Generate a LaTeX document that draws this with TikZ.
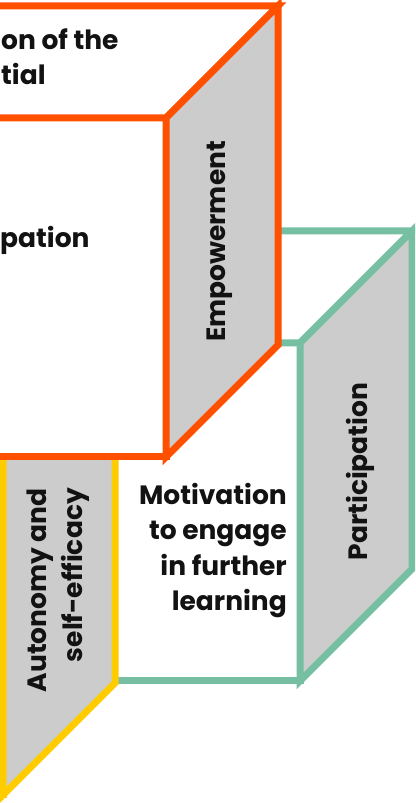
\documentclass[tikz,border=0pt]{standalone}
\usepackage{fontspec}
\setmainfont{Poppins}
\usetikzlibrary{calc,positioning}
\definecolor{orangeline}{HTML}{FF5000}
\definecolor{greenline}{HTML}{77BFA3}
\definecolor{yellowline}{HTML}{FFCC00}
\definecolor{sidegray}{HTML}{CCCCCC}

\begin{document}
\begin{tikzpicture}[x=1pt,y=1pt,
	face/.style={fill=white, line width=7pt},
	side/.style={fill=sidegray, line width=7pt},
	label/.style={font=\fontsize{26.5}{35.5}\selectfont\bfseries, text=black!93, inner sep=0pt}]
	\useasboundingbox (0,0) rectangle (415,803);
	\clip (0,0) rectangle (415,803);

	% green box (back)
	\coordinate (G1) at (300,122);
	\coordinate (G2) at (300,460);
	\coordinate (G3) at ($(G2)+(112,112)$);
	\coordinate (G4) at ($(G1)+(112,112)$);
	\draw[face, draw=greenline] (-80,122) rectangle (G2);
	\draw[face, draw=greenline] (-80,460) -- (G2) -- (G3) -- ($(G3)+(-380,0)$) -- cycle;
	\draw[side, draw=greenline] (G1) -- (G2) -- (G3) -- (G4) -- cycle;

	% yellow box
	\coordinate (Y1) at (3,8);
	\coordinate (Y2) at (3,347);
	\coordinate (Y3) at ($(Y2)+(112,112)$);
	\coordinate (Y4) at ($(Y1)+(112,112)$);
	\draw[face, draw=yellowline] (-300,8) rectangle (Y2);
	\draw[face, draw=yellowline] (-300,347) -- (Y2) -- (Y3) -- ($(Y3)+(-300,0)$) -- cycle;
	\draw[side, draw=yellowline] (Y1) -- (Y2) -- (Y3) -- (Y4) -- cycle;

	% orange box (front)
	\coordinate (O1) at (166,346);
	\coordinate (O2) at (166,685);
	\coordinate (O3) at ($(O2)+(112,112)$);
	\coordinate (O4) at ($(O1)+(112,112)$);
	\draw[face, draw=orangeline] (-300,346) rectangle (O2);
	\draw[face, draw=orangeline] (-300,685) -- (O2) -- (O3) -- ($(O3)+(-400,0)$) -- cycle;
	\draw[side, draw=orangeline] (O1) -- (O2) -- (O3) -- (O4) -- cycle;

	% texts (base = last line)
	\node[label, align=left, anchor=base west] (potential) at (1,718) {on of the\\tial};
	\node[label, anchor=base west] (anticip) at (0,555) {pation};
	\node[label, rotate=90, anchor=base] (empower) at (225,561.5) {Empowerment};
	\node[label, rotate=90, anchor=base] (particip) at (367,331.5) {Participation};
	\node[label, rotate=90, align=right, anchor=base east] (autonomy) at (82,315) {Autonomy and\\self-efficacy};
	\node[label, align=right, anchor=base east] (motivation) at (287,192) {Motivation\\to engage\\in further\\learning};
\end{tikzpicture}
\end{document}
